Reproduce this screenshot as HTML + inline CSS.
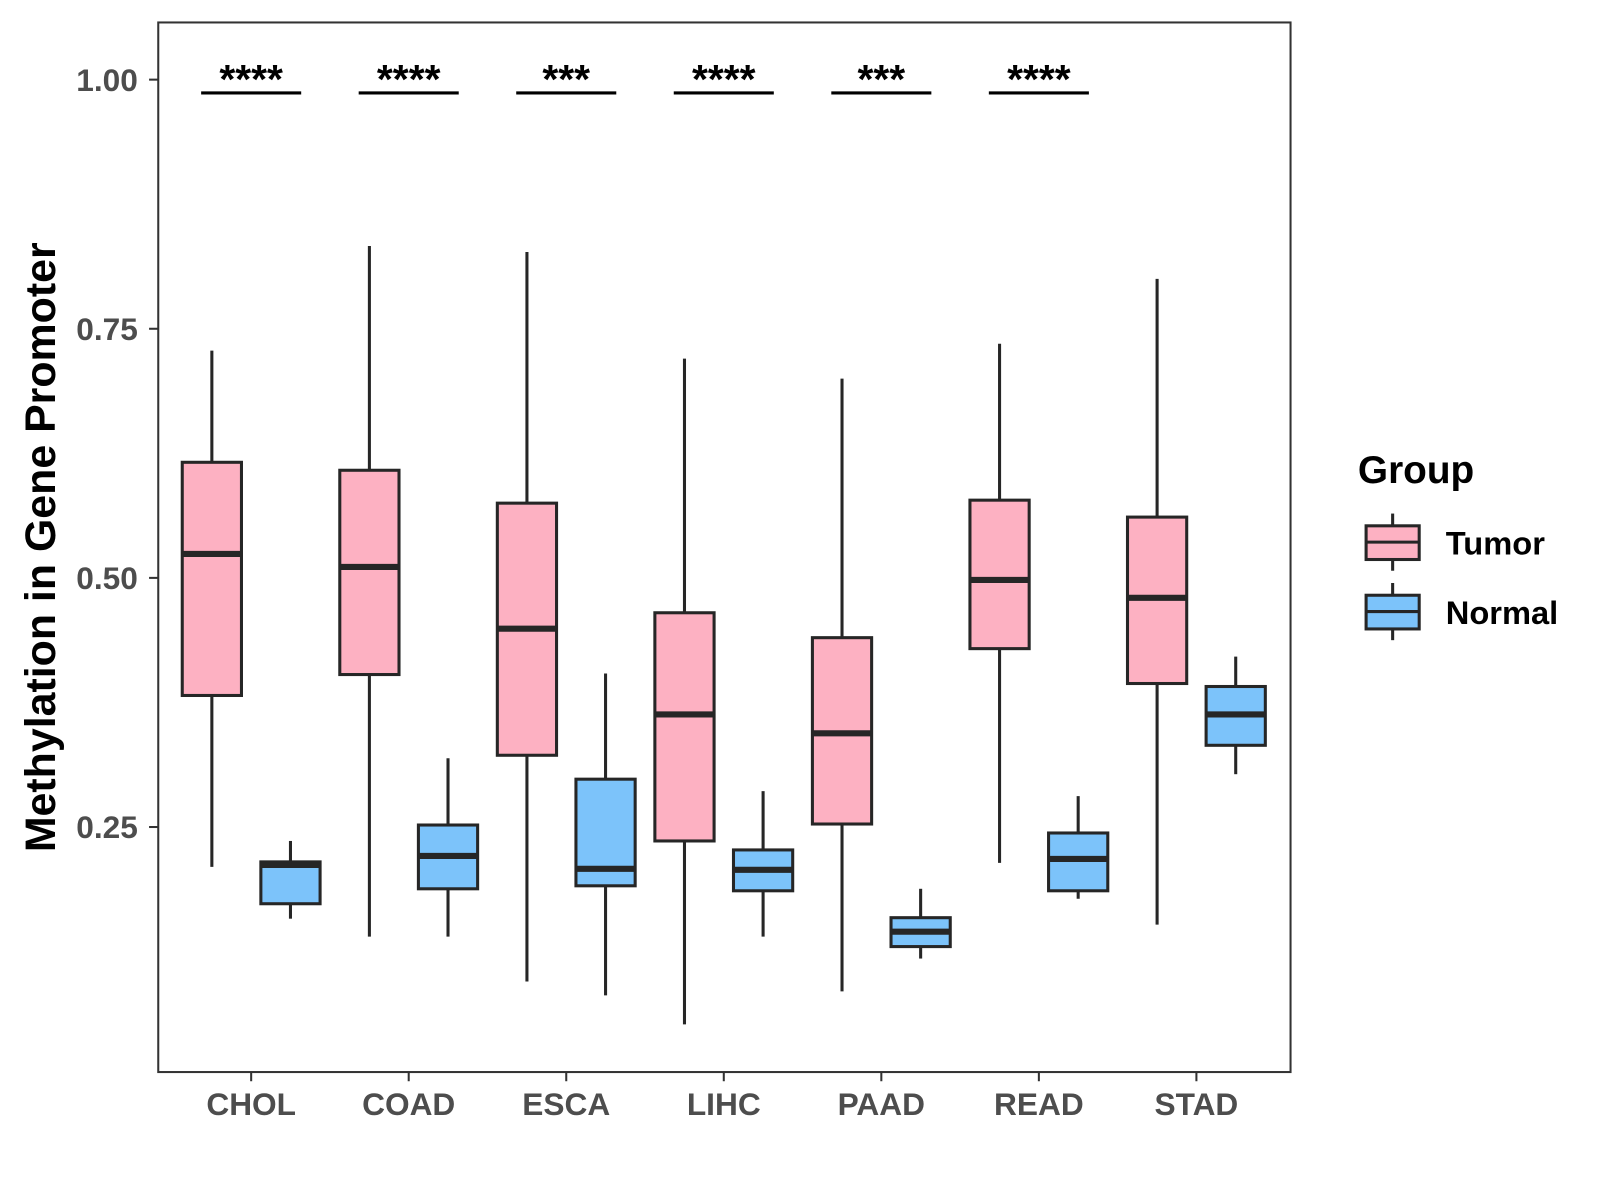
<!DOCTYPE html>
<html><head><meta charset="utf-8"><style>
body{margin:0;background:#fff;}
svg{display:block;font-family:"Liberation Sans",Arial,sans-serif;}
</style></head><body>
<svg id="chart" width="1600" height="1200" viewBox="0 0 1600 1200">
<rect x="0" y="0" width="1600" height="1200" fill="#fff"/>
<g transform="scale(1.021)">
<g id="plot"></g>
<text transform="translate(54,536) rotate(-90)" text-anchor="middle" font-size="42" font-weight="bold" fill="#000">Methylation in Gene Promoter</text>
<g>
<text x="1330" y="473" font-size="38" font-weight="bold">Group</text>
<g>
<line x1="1364" y1="503" x2="1364" y2="559" stroke="#262626" stroke-width="3"/>
<rect x="1338" y="515" width="52" height="33" fill="#FDB1C2" stroke="#262626" stroke-width="3"/>
<line x1="1338" y1="531" x2="1390" y2="531" stroke="#262626" stroke-width="3"/>
<text x="1416" y="543" font-size="32" font-weight="bold">Tumor</text></g>
<g>
<line x1="1364" y1="571" x2="1364" y2="627" stroke="#262626" stroke-width="3"/>
<rect x="1338" y="583" width="52" height="33" fill="#7CC3FA" stroke="#262626" stroke-width="3"/>
<line x1="1338" y1="599" x2="1390" y2="599" stroke="#262626" stroke-width="3"/>
<text x="1416" y="611" font-size="32" font-weight="bold">Normal</text></g>
</g>
</g>
</svg>
<script>
const categories=["CHOL","COAD","ESCA","LIHC","PAAD","READ","STAD"];
const tumorLow=[0.210,0.140,0.095,0.052,0.085,0.214,0.152];
const tumorQ1=[0.382,0.403,0.322,0.236,0.253,0.429,0.394];
const tumorMed=[0.524,0.511,0.449,0.363,0.344,0.498,0.480];
const tumorQ3=[0.616,0.608,0.575,0.465,0.440,0.578,0.561];
const tumorHigh=[0.728,0.833,0.827,0.720,0.700,0.735,0.800];
const normalLow=[0.158,0.140,0.081,0.140,0.118,0.178,0.303];
const normalQ1=[0.173,0.188,0.191,0.186,0.130,0.186,0.332];
const normalMed=[0.212,0.221,0.208,0.207,0.145,0.218,0.363];
const normalQ3=[0.215,0.252,0.298,0.227,0.159,0.244,0.391];
const normalHigh=[0.236,0.319,0.404,0.286,0.188,0.281,0.421];
const signif=["****","****","***","****","***","****",""];
const yTicks=[0.25,0.50,0.75,1.00];
const yTickLabels=["0.25","0.50","0.75","1.00"];

const NS="http://www.w3.org/2000/svg";
const P={l:155,r:1264,t:22,b:1050};
function y(v){return 78+(1-v)*976;}
function xc(i){return 246+i*154.3;}
const g=document.getElementById('plot');
function mk(tag,a,parent){const e=document.createElementNS(NS,tag);for(const k in a)e.setAttribute(k,a[k]);(parent||g).appendChild(e);return e;}

const frame=mk('rect',{x:P.l,y:P.t,width:P.r-P.l,height:P.b-P.t,fill:'none',stroke:'#333',"stroke-width":2});



yTicks.forEach((v,i)=>{
  const t=mk('line',{x1:P.l-9,x2:P.l,y1:y(v),y2:y(v),stroke:'#333',"stroke-width":2});
  
  
  const l=mk('text',{x:P.l-20,y:y(v)+11,"text-anchor":"end","font-size":31,"font-weight":"bold",fill:'#4d4d4d'});
  l.textContent=yTickLabels[i];
  
  
});

function box(cx,lo,q1,md,q3,hi,fill,name){
  const grp=mk('g',{});
  
  
  mk('line',{x1:cx,x2:cx,y1:y(hi),y2:y(q3),stroke:'#262626',"stroke-width":3},grp);
  mk('line',{x1:cx,x2:cx,y1:y(q1),y2:y(lo),stroke:'#262626',"stroke-width":3},grp);
  mk('rect',{x:cx-29,y:y(q3),width:58,height:y(q1)-y(q3),fill:fill,stroke:'#262626',"stroke-width":3},grp);
  mk('line',{x1:cx-29,x2:cx+29,y1:y(md),y2:y(md),stroke:'#262626',"stroke-width":6},grp);
}

categories.forEach((c,i)=>{
  const x=xc(i);
  box(x-38.5,tumorLow[i],tumorQ1[i],tumorMed[i],tumorQ3[i],tumorHigh[i],'#FDB1C2','box-tumor-'+c.toLowerCase());
  box(x+38.5,normalLow[i],normalQ1[i],normalMed[i],normalQ3[i],normalHigh[i],'#7CC3FA','box-normal-'+c.toLowerCase());
  const t=mk('line',{x1:x,x2:x,y1:P.b,y2:P.b+9,stroke:'#333',"stroke-width":2});
  
  
  const l=mk('text',{x:x,y:P.b+42,"text-anchor":"middle","font-size":31,"font-weight":"bold",fill:'#4d4d4d'});
  l.textContent=c;
  
  
  if(signif[i]){
    const s=mk('line',{x1:x-49,x2:x+49,y1:91,y2:91,stroke:'#000',"stroke-width":3});
    
    
    const st=mk('text',{x:x,y:91,"text-anchor":"middle","font-size":40,"font-weight":"bold",fill:'#000'});
    st.textContent=signif[i];
    
    
  }
});
</script>
</body></html>
